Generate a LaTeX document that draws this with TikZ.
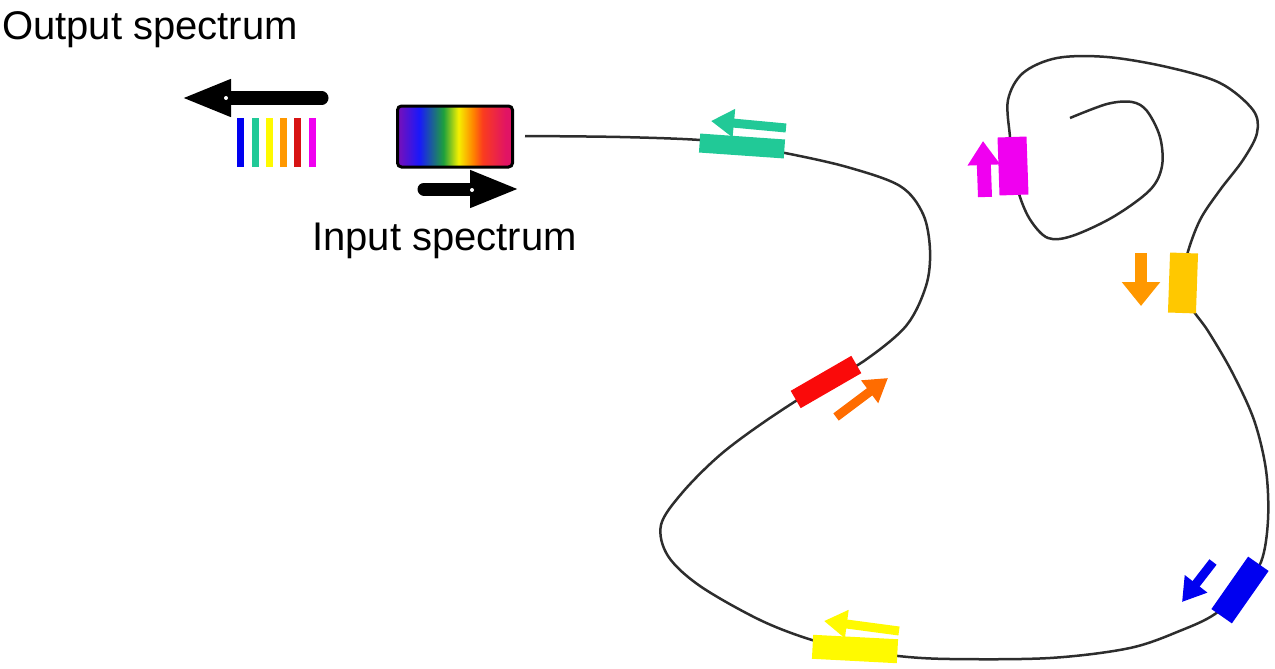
\documentclass[tikz,border=0pt]{standalone}
\usepackage{fontspec}
\setmainfont{Liberation Sans}
\usetikzlibrary{arrows.meta,backgrounds}

% grating / signal colours
\definecolor{cTeal}{RGB}{33,201,151}
\definecolor{cRed}{RGB}{250,10,10}
\definecolor{cOrangeRed}{RGB}{255,108,0}
\definecolor{cYellow}{RGB}{255,250,0}
\definecolor{cBlue}{RGB}{0,0,240}
\definecolor{cGold}{RGB}{255,200,0}
\definecolor{cOrange}{RGB}{255,152,0}
\definecolor{cMagenta}{RGB}{240,0,240}
\definecolor{cBarRed}{RGB}{215,20,20}
\definecolor{fiberGray}{RGB}{45,45,45}

% spectrum colours for the broadband source
\definecolor{spPurple}{RGB}{112,16,190}
\definecolor{spBlue}{RGB}{25,25,250}
\definecolor{spGreen}{RGB}{30,160,60}
\definecolor{spYellow}{RGB}{245,240,0}
\definecolor{spOrange}{RGB}{255,130,0}
\definecolor{spRedOrange}{RGB}{250,60,30}
\definecolor{spPink}{RGB}{225,20,100}

\pgfdeclarehorizontalshading{spectrum}{100bp}{%
  color(0bp)=(spPurple); color(26bp)=(spPurple); color(34.5bp)=(spBlue);
  color(45bp)=(spGreen); color(51.5bp)=(spYellow); color(58bp)=(spOrange);
  color(62bp)=(spRedOrange); color(72bp)=(spPink); color(100bp)=(spPink)}

\tikzset{
  fiber/.style={draw=fiberGray, line width=2.5pt},
  grate/.style={rectangle, inner sep=0pt, draw=none},
  bigarrow/.style={line width=13pt, line cap=round, -{Triangle[length=50pt,width=34pt]}},
  colarrow/.style={line width=9pt, -{Triangle[length=23pt,width=27pt]}},
  bar/.style={line width=7pt},
  label/.style={inner sep=0pt, anchor=base west, font=\fontsize{40}{48}\selectfont},
}

\begin{document}
\begin{tikzpicture}[x=1pt, y=-1pt]
  \useasboundingbox (0,0) rectangle (1275,669);

  % labels
  \node[label] (outLabel) at (2,40) {Output spectrum};
  \node[label] (inLabel) at (312,250) {Input spectrum};

  % broadband source
  \node[draw=black, line width=3pt, rounded corners=4pt, shading=spectrum,
        minimum width=115pt, minimum height=61pt, inner sep=0pt] (src) at (455,136.5) {};

  % input and output direction arrows
  \draw[bigarrow] (322,98) -- (181,98);
  \fill[white] (226,98) circle (2pt);
  \draw[bigarrow] (424,189) -- (520,189);
  \fill[white] (472,190) circle (2pt);

  % reflected wavelength lines
  \draw[bar, cBlue]    (240,118) -- (240,167);
  \draw[bar, cTeal]    (255,118) -- (255,167);
  \draw[bar, cYellow]  (269,118) -- (269,167);
  \draw[bar, cOrange]  (283,118) -- (283,167);
  \draw[bar, cBarRed]  (297,118) -- (297,167);
  \draw[bar, cMagenta] (312,118) -- (312,167);

  % fibre Bragg gratings
  \node[grate, fill=cTeal, minimum width=85pt, minimum height=19pt, rotate=-4] (gTeal) at (742,146) {};
  \node[grate, fill=cRed, minimum width=70pt, minimum height=20pt, rotate=30] (gRed) at (826,382) {};
  \node[grate, fill=cYellow, minimum width=85pt, minimum height=24pt, rotate=-3] (gYellow) at (855,649) {};
  \node[grate, fill=cBlue, minimum width=64pt, minimum height=25pt, rotate=55] (gBlue) at (1240,590) {};
  \node[grate, fill=cGold, minimum width=28pt, minimum height=60pt, rotate=-2] (gGold) at (1183,283) {};
  \node[grate, fill=cMagenta, minimum width=29pt, minimum height=58pt, rotate=2] (gMagenta) at (1013,166) {};

  \coordinate (fiberStart) at (525,136);
  \coordinate (fiberEnd) at (1070,118);

  % the optical fibre running through all gratings
  \begin{scope}[on background layer]
    \draw[fiber] plot[smooth, tension=0.55] coordinates {
      (fiberStart) (620,137) (700,140) (gTeal) (785,153) (847,167) (900,186)
      (923,214) (930,250) (926,286) (906,326) (864,361) (gRed) (767,420)
      (720,455) (682,493) (661,525) (668,556) (700,586) (760,620) (812,640)
      (gYellow) (898,656) (950,659) (1050,658) (1130,648) (1182,630) (1215,614)
      (gBlue) (1261,562) (1268,520) (1266,470) (1254,420) (1232,372) (1208,331)
      (1191,307) (gGold) (1187,255) (1200,220) (1220,190) (1243,160) (1257,133)
      (1253,110) (1220,83) (1167,67) (1107,57) (1057,58) (1023,73) (1008,100)
      (1010,137) (gMagenta) (1020,197) (1031,221) (1048,238) (1072,236)
      (1113,217) (1150,190) (1162,166) (1160,137) (1147,111) (1132,102)
      (1107,104) (fiberEnd)};
  \end{scope}

  % reflected and transmitted signal arrows
  \draw[colarrow, cTeal]      (786,128) -- (711,121);
  \draw[colarrow, cOrangeRed] (836,417) -- (888,378);
  \draw[colarrow, cYellow]    (899,631) -- (824,621);
  \draw[colarrow, cBlue]      (1213,562) -- (1182,602);
  \draw[colarrow, cOrange, line width=12pt, -{Triangle[length=24pt,width=37pt]}] (1141,253) -- (1141,306);
  \draw[colarrow, cMagenta, line width=14pt, -{Triangle[length=24pt,width=31pt]}] (985,197) -- (983,141);
\end{tikzpicture}
\end{document}
